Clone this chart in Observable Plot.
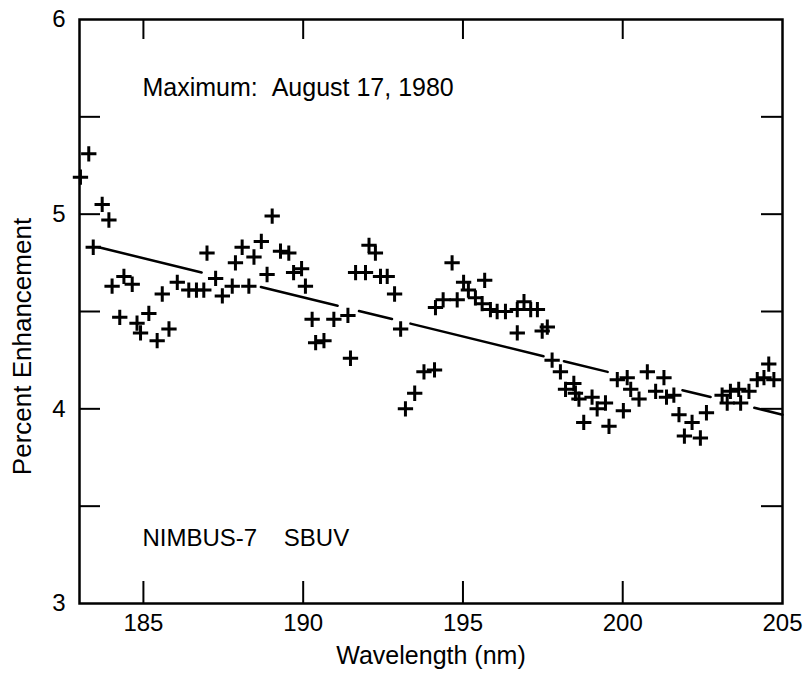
<!DOCTYPE html>
<html>
<head>
<meta charset="utf-8">
<script src="https://cdn.jsdelivr.net/npm/d3@7"></script>
<script src="https://cdn.jsdelivr.net/npm/@observablehq/plot@0.6"></script>
<style>
  html, body { margin: 0; padding: 0; background: white; }
</style>
</head>
<body>
<div id="chart"></div>
<script>
// Measured points (wavelength nm, percent enhancement)
const wavelength = [
  183.03, 183.29, 183.43, 183.71, 183.92, 184.02, 184.26, 184.39, 184.65, 184.80,
  184.91, 185.17, 185.43, 185.59, 185.80, 186.06, 186.42, 186.66, 186.89, 186.99,
  187.26, 187.47, 187.78, 187.88, 188.09, 188.30, 188.46, 188.69, 188.87, 189.03,
  189.29, 189.55, 189.70, 189.95, 190.07, 190.28, 190.39, 190.65, 190.96, 191.40,
  191.48, 191.64, 191.95, 192.06, 192.26, 192.42, 192.63, 192.86, 193.05, 193.20,
  193.49, 193.78, 194.11, 194.14, 194.38, 194.66, 194.82, 195.02, 195.17, 195.39,
  195.60, 195.68, 195.86, 196.07, 196.33, 196.70, 196.70, 196.91, 197.12, 197.33,
  197.48, 197.64, 197.79, 198.05, 198.21, 198.47, 198.52, 198.63, 198.78, 199.04,
  199.20, 199.46, 199.57, 199.83, 200.02, 200.14, 200.25, 200.51, 200.77, 201.03,
  201.29, 201.37, 201.60, 201.76, 201.93, 202.17, 202.43, 202.62, 203.11, 203.27,
  203.37, 203.63, 203.69, 203.95, 204.21, 204.42, 204.57, 204.73
];
const enhancement = [
  5.19, 5.31, 4.83, 5.05, 4.97, 4.63, 4.47, 4.68, 4.64, 4.44,
  4.39, 4.49, 4.35, 4.59, 4.41, 4.65, 4.61, 4.61, 4.61, 4.80,
  4.67, 4.58, 4.63, 4.75, 4.83, 4.63, 4.78, 4.86, 4.69, 4.99,
  4.81, 4.80, 4.70, 4.72, 4.63, 4.46, 4.34, 4.35, 4.46, 4.48,
  4.26, 4.70, 4.70, 4.84, 4.80, 4.68, 4.68, 4.59, 4.41, 4.00,
  4.08, 4.19, 4.20, 4.52, 4.56, 4.75, 4.56, 4.65, 4.61, 4.57,
  4.54, 4.66, 4.51, 4.50, 4.50, 4.51, 4.39, 4.55, 4.51, 4.51,
  4.40, 4.42, 4.25, 4.19, 4.10, 4.13, 4.08, 4.05, 3.93, 4.06,
  4.00, 4.03, 3.91, 4.15, 3.99, 4.16, 4.10, 4.05, 4.19, 4.09,
  4.16, 4.06, 4.07, 3.97, 3.86, 3.93, 3.85, 3.98, 4.07, 4.03,
  4.09, 4.10, 4.03, 4.09, 4.15, 4.16, 4.23, 4.15
];

// Fitted trend line end points
const fitWavelength = [183.6, 205];
const fitEnhancement = [4.83, 3.97];

// Axis ticks
const xTickLabels = [185, 190, 195, 200, 205];
const xTickMarks = [185, 190, 195, 200];
const yTickLabels = [3, 4, 5, 6];
const yTickMarks = [3.5, 4, 4.5, 5, 5.5];

const xDomain = [183, 205];
const yDomain = [3, 6];

const xTitle = "Wavelength (nm)";
const yTitle = "Percent Enhancement";
const notes = ["Maximum:\u00a0\u00a0August 17, 1980", "NIMBUS-7 \u00a0\u00a0\u00a0SBUV"];

const points = wavelength.map((w, i) => ({w, e: enhancement[i]}));
const fit = fitWavelength.map((w, i) => ({w, e: fitEnhancement[i]}));

const W = 805, H = 679;
const mL = 79, mR = 23, mT = 19, mB = 76;
const plotW = W - mL - mR, plotH = H - mT - mB;

// irregular long-dash pattern of the hand-drawn fit line (style)
const fitDash = "106,61,79,22,34,19,137,21,45,77,29,45,80";

const chart = Plot.plot({
  width: W,
  height: H,
  marginLeft: mL,
  marginRight: mR,
  marginTop: mT,
  marginBottom: mB,
  style: {fontFamily: "Liberation Sans, Arial, sans-serif", fontSize: "24px", background: "white", color: "black", overflow: "visible"},
  x: {domain: xDomain, ticks: xTickLabels, tickFormat: d3.format("d"), tickSize: 0, tickPadding: 10, label: null},
  y: {domain: yDomain, ticks: yTickLabels, tickFormat: d3.format("d"), tickSize: 0, tickPadding: 14, label: null},
  marks: [
    Plot.frame({stroke: "black", strokeWidth: 2.5}),
    // inward ticks
    Plot.ruleX(xTickMarks, {x: d => d, insetTop: plotH - 22, stroke: "black", strokeWidth: 2}),
    Plot.ruleX(xTickMarks, {x: d => d, insetBottom: plotH - 20, stroke: "black", strokeWidth: 2}),
    Plot.ruleY(yTickMarks, {y: d => d, insetRight: plotW - 21, stroke: "black", strokeWidth: 2}),
    Plot.ruleY(yTickMarks, {y: d => d, insetLeft: plotW - 21, stroke: "black", strokeWidth: 2}),
    // trend line
    Plot.line(fit, {x: "w", y: "e", stroke: "black", strokeWidth: 2.5, strokeDasharray: fitDash}),
    // data
    Plot.dot(points, {x: "w", y: "e", symbol: "plus", r: 5, stroke: "black", strokeWidth: 3}),
    // annotations
    Plot.text([notes[0]], {frameAnchor: "top-left", dx: 63, dy: 59, textAnchor: "start", fontSize: 25}),
    Plot.text([notes[1]], {frameAnchor: "bottom-left", dx: 63, dy: -58, textAnchor: "start", fontSize: 24}),
    // axis titles
    Plot.text([xTitle], {frameAnchor: "bottom", dy: 60, fontSize: 25}),
    Plot.text([yTitle], {frameAnchor: "left", dx: -57, dy: 35, rotate: -90, textAnchor: "middle", fontSize: 26})
  ]
});

document.getElementById("chart").appendChild(chart);
</script>
</body>
</html>
